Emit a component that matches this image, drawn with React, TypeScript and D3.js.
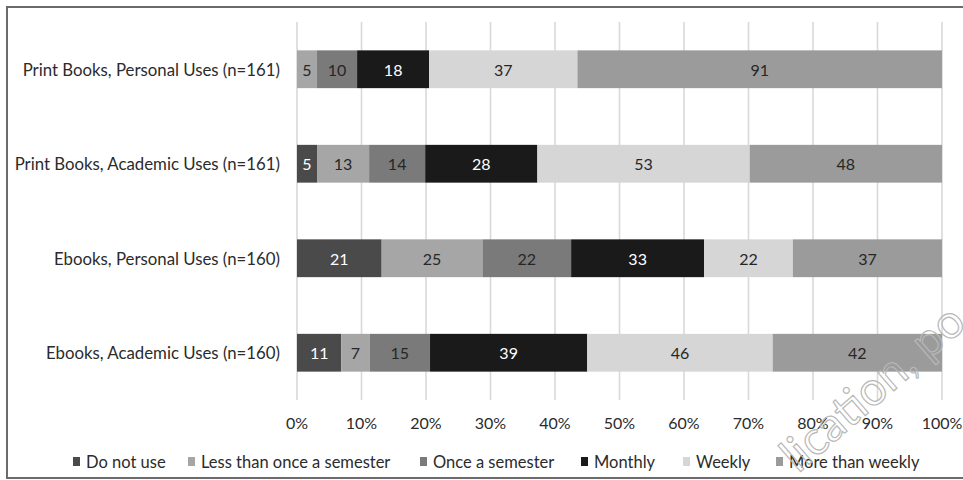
import React from "react";
import * as d3 from "d3";

// Survey groups (top to bottom)
const categories = [
  "Print Books, Personal Uses (n=161)",
  "Print Books, Academic Uses (n=161)",
  "Ebooks, Personal Uses (n=160)",
  "Ebooks, Academic Uses (n=160)",
];

// Frequency-of-use levels, in stacking order
const seriesNames = [
  "Do not use",
  "Less than once a semester",
  "Once a semester",
  "Monthly",
  "Weekly",
  "More than weekly",
];

// Counts per group, one array per frequency level
const doNotUse = [0, 5, 21, 11];
const lessThanOnceASemester = [5, 13, 25, 7];
const onceASemester = [10, 14, 22, 15];
const monthly = [18, 28, 33, 39];
const weekly = [37, 53, 22, 46];
const moreThanWeekly = [91, 48, 37, 42];

const xTicks = [0, 0.1, 0.2, 0.3, 0.4, 0.5, 0.6, 0.7, 0.8, 0.9, 1.0];

const seriesValues = [doNotUse, lessThanOnceASemester, onceASemester, monthly, weekly, moreThanWeekly];
const fills = ["#4a4a4a", "#a6a6a6", "#7a7a7a", "#1a1a1a", "#d6d6d6", "#9b9b9b"];
const labelFills = ["#ffffff", "#262626", "#262626", "#ffffff", "#262626", "#262626"];

const W = 963;
const H = 480;
const FONT = "Lato, 'Open Sans', sans-serif";

// Legend layout (marker x)
const legendX = [73, 188, 420, 581, 683, 776];

export default function App() {
  const x = d3.scaleLinear().domain([0, 1]).range([297, 942]);
  const y = d3
    .scaleBand<string>()
    .domain(categories)
    .range([22, 400])
    .paddingInner(0.6)
    .paddingOuter(0.3);

  const rows = categories.map((c, i) => {
    const obj: Record<string, number | string> = { category: c };
    seriesNames.forEach((s, j) => (obj[s] = seriesValues[j][i]));
    return obj;
  });
  const totals = categories.map((_, i) => d3.sum(seriesValues, (s) => s[i]));

  const stack = d3.stack<Record<string, number | string>>().keys(seriesNames);
  const stacked = stack(rows as any);

  return (
    <svg
      width={W}
      height={H}
      style={{ position: "absolute", left: 0, top: 0, background: "#fff" }}
      fontFamily={FONT}
    >
      <rect x={0} y={0} width={W} height={H} fill="#ffffff" />

      {/* gridlines */}
      {xTicks.map((t) => (
        <line
          key={"g" + t}
          x1={x(t)}
          x2={x(t)}
          y1={22}
          y2={400}
          stroke="#d9d9d9"
          strokeWidth={1.6}
        />
      ))}

      {/* stacked bars */}
      {stacked.map((layer, j) => (
        <g key={layer.key}>
          {layer.map((d, i) => {
            const v = d[1] - d[0];
            if (v <= 0) return null;
            const x0 = x(d[0] / totals[i]);
            const x1 = x(d[1] / totals[i]);
            const yy = y(categories[i])!;
            return (
              <g key={i}>
                <rect
                  x={x0}
                  y={yy}
                  width={x1 - x0}
                  height={y.bandwidth()}
                  fill={fills[j]}
                />
                <text
                  x={(x0 + x1) / 2}
                  y={yy + y.bandwidth() / 2}
                  textAnchor="middle"
                  dominantBaseline="central"
                  fontSize={16}
                  fill={labelFills[j]}
                >
                  {v}
                </text>
              </g>
            );
          })}
        </g>
      ))}

      {/* category labels */}
      {categories.map((c) => (
        <text
          key={c}
          x={280}
          y={y(c)! + y.bandwidth() / 2}
          textAnchor="end"
          dominantBaseline="central"
          fontSize={16.8}
          fill="#2b2b2b"
        >
          {c}
        </text>
      ))}

      {/* x tick labels */}
      {xTicks.map((t) => (
        <text
          key={"t" + t}
          x={x(t)}
          y={422}
          textAnchor="middle"
          dominantBaseline="central"
          fontSize={16}
          fill="#2b2b2b"
        >
          {d3.format(".0%")(t)}
        </text>
      ))}

      {/* legend */}
      {seriesNames.map((s, j) => (
        <g key={"l" + s}>
          <rect x={legendX[j]} y={457} width={7} height={9} fill={fills[j]} />
          <text
            x={legendX[j] + 13}
            y={462}
            dominantBaseline="central"
            fontSize={16.5}
            fill="#2b2b2b"
          >
            {s}
          </text>
        </g>
      ))}

      {/* watermark */}
      <text
        x={0}
        y={0}
        transform="translate(798,474) rotate(-41)"
        fontSize={47}
        fill="none"
        stroke="#b8b8b8"
        strokeWidth={1.2}
        fontFamily={FONT}
      >
        lication, po
      </text>

      {/* frame */}
      <line x1={6} x2={W} y1={7} y2={7} stroke="#6b6b6b" strokeWidth={2} />
      <line x1={7} x2={7} y1={6} y2={479} stroke="#6b6b6b" strokeWidth={2} />
      <line x1={6} x2={W} y1={478} y2={478} stroke="#6b6b6b" strokeWidth={2} />
    </svg>
  );
}
